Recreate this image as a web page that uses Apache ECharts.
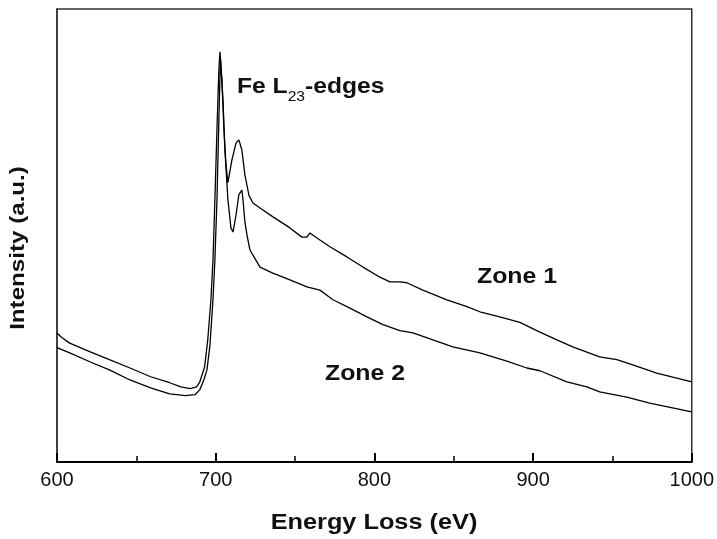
<!DOCTYPE html>
<html>
<head>
<meta charset="utf-8">
<script src="https://cdn.jsdelivr.net/npm/echarts@6/dist/echarts.min.js"></script>
<style>html,body{margin:0;padding:0;background:#fff}#c{width:717px;height:539px}</style>
</head>
<body>
<div id="c"></div>
<script>
// Energy loss (eV) vs intensity (a.u., arbitrary 0-100 scale)
var zone1 = [[600,29.7],[603,28.7],[608,27.5],[621,25.6],[633,23.9],[646,22.1],[659,20.2],[671,18.9],[678,18.0],[684,17.6],[688,18.0],[690,19.1],[693,22.3],[695,28.2],[697,36.9],[698.3,45.6],[699.5,58.6],[700.8,73.8],[702,86.8],[702.7,90.7],[703.9,84.6],[705.2,73.8],[706.5,66.2],[707.7,62.3],[710.2,67.2],[712.8,70.9],[714.6,71.6],[716.5,69.4],[718.4,64.0],[719.7,61.8],[721,59.5],[723.5,57.9],[727.9,56.8],[736.1,54.9],[746.8,52.5],[754.3,50.5],[757.5,50.5],[759.4,51.4],[763.8,50.3],[772,48.4],[782.7,46.2],[792.8,44.0],[803.5,41.8],[809.8,40.8],[816.1,40.8],[820.5,40.6],[830.5,39.0],[845.7,36.9],[858.3,35.4],[866.5,34.3],[879,33.2],[891.7,32.0],[904.3,29.9],[915,28.2],[925,26.7],[942,24.5],[952.8,23.9],[962.8,22.8],[977.9,21.0],[1000,19.1]];
var zone2 = [[600,26.5],[608,25.4],[621,23.4],[633,21.7],[646,19.5],[659,17.8],[671,16.5],[681,16.1],[687,16.3],[690,17.4],[692.5,19.5],[694.5,21.7],[696.4,27.1],[698.3,36.9],[699.5,45.6],[700.8,58.6],[702,75.9],[703,89.4],[704.6,80.3],[705.8,69.4],[707.7,58.6],[709.6,52.5],[710.9,51.6],[712.8,55.3],[714.6,59.7],[716.5,60.7],[717.2,58.6],[718.4,53.8],[719.7,51.0],[721.6,47.7],[727.9,44.0],[736,42.7],[746.8,41.2],[757.5,39.7],[765.7,39.0],[773.9,36.9],[784.6,35.1],[795.3,33.2],[805.4,31.5],[816.1,30.2],[824.3,29.7],[836.9,28.2],[849.4,26.7],[866.5,25.4],[883.5,23.6],[896.1,22.1],[904.3,21.5],[921.3,19.1],[933.9,18.0],[942,16.9],[959.1,15.8],[973.5,14.5],[1000,12.6]];
var xMin = 600, xMax = 1000, xStep = 100;
var yMin = 1.7, yMax = 100;
var xTitle = 'Energy Loss (eV)';
var yTitle = 'Intensity (a.u.)';

var chart = echarts.init(document.getElementById('c'), null, {renderer: 'canvas'});
var font = 'Liberation Sans, Arial, Helvetica, sans-serif';
var lineStyle = {color: '#000', width: 1.3};
var boldText = function (txt, size) {
  return {text: txt, fontSize: size, fontWeight: 'bold', fontFamily: font, fill: '#111'};
};
chart.setOption({
  animation: false,
  backgroundColor: '#fff',
  grid: {left: 57, right: 25, top: 9, bottom: 77, show: true, borderColor: '#333', borderWidth: 1.5},
  xAxis: {
    type: 'value', min: xMin, max: xMax, interval: xStep,
    axisLine: {show: true, lineStyle: {color: '#000', width: 2}},
    axisTick: {show: true, inside: true, length: 9, lineStyle: {color: '#000', width: 2}},
    minorTick: {show: true, splitNumber: 2, length: 6, lineStyle: {color: '#000', width: 1.5}},
    splitLine: {show: false},
    axisLabel: {color: '#111', fontSize: 20, fontFamily: font, margin: 8,
      formatter: function (v) { return String(v); }}
  },
  yAxis: {
    type: 'value', min: yMin, max: yMax,
    axisLine: {show: true, lineStyle: {color: '#333', width: 1.5}},
    axisTick: {show: false}, axisLabel: {show: false}, splitLine: {show: false}
  },
  series: [
    {name: 'Zone 1', type: 'line', data: zone1, showSymbol: false, lineStyle: lineStyle, z: 3},
    {name: 'Zone 2', type: 'line', data: zone2, showSymbol: false, lineStyle: lineStyle, z: 3}
  ],
  graphic: [
    {type: 'text', x: 374, y: 523, scaleX: 1.15, style: Object.assign(boldText(xTitle, 22), {textAlign: 'center', textVerticalAlign: 'middle'})},
    {type: 'text', x: 18, y: 248, rotation: Math.PI / 2, scaleX: 1.15, style: Object.assign(boldText(yTitle, 21), {textAlign: 'center', textVerticalAlign: 'middle'})},
    {type: 'text', x: 237, y: 70, scaleX: 1.12, style: {
      text: '{b|Fe L}{s|23}{b|-edges}',
      rich: {
        b: {fontSize: 22, fontWeight: 'bold', fontFamily: font, fill: '#111', lineHeight: 34},
        s: {fontSize: 14, fontWeight: 'normal', fontFamily: font, fill: '#111', lineHeight: 14, verticalAlign: 'bottom'}
      }
    }},
    {type: 'text', x: 477, y: 266, scaleX: 1.13, style: boldText('Zone 1', 22)},
    {type: 'text', x: 325, y: 363, scaleX: 1.13, style: boldText('Zone 2', 22)}
  ]
});
</script>
</body>
</html>
